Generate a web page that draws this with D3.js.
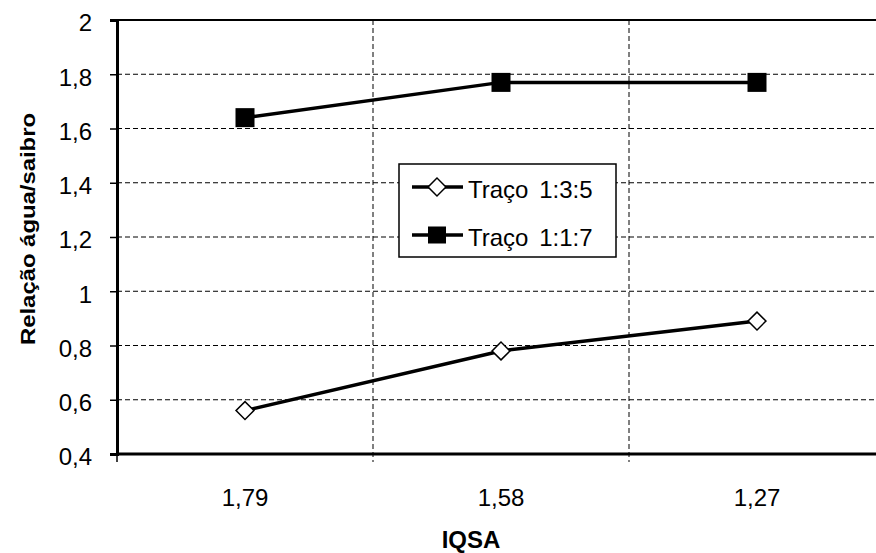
<!DOCTYPE html>
<html><head><meta charset="utf-8">
<script src="https://cdn.jsdelivr.net/npm/d3@7"></script>
<style>body{margin:0;background:#fff}svg{display:block}text{font-family:"Liberation Sans",Arial,sans-serif}</style>
</head><body>
<svg id="c" width="876" height="553"></svg>
<script>
const categories = ["1,79", "1,58", "1,27"];
const serie135 = [0.56, 0.78, 0.89];
const serie117 = [1.64, 1.77, 1.77];
const yTicks = [0.4, 0.6, 0.8, 1, 1.2, 1.4, 1.6, 1.8, 2];
const seriesNames = ["Traço 1:3:5", "Traço 1:1:7"];

const svg = d3.select("#c");
const L = 117, R = 885, T = 20, B = 454;
const x = d3.scaleBand().domain(categories).range([L, R]);
const y = d3.scaleLinear().domain([0.4, 2]).range([B, T]);
const fmt = d => String(d).replace(".", ",");

// horizontal gridlines
svg.append("g").selectAll("line").data(yTicks.filter(d => d > 0.4 && d < 2)).join("line")
  .attr("x1", L).attr("x2", 876).attr("y1", d => y(d)).attr("y2", d => y(d))
  .attr("stroke", "#000").attr("stroke-width", 1).attr("stroke-dasharray", "5,3");
// top line
svg.append("line").attr("x1", L).attr("x2", 876).attr("y1", y(2)).attr("y2", y(2))
  .attr("stroke", "#000").attr("stroke-width", 2);
// vertical gridlines at category boundaries
const bounds = categories.slice(1).map(c => x(c));
svg.append("g").selectAll("line").data(bounds).join("line")
  .attr("x1", d => d).attr("x2", d => d).attr("y1", T).attr("y2", B + 8)
  .attr("stroke", "#000").attr("stroke-width", 1).attr("stroke-dasharray", "5,3");

// y axis
const yAxis = svg.append("g").attr("transform", `translate(${L},0)`)
  .call(d3.axisLeft(y).tickValues(yTicks).tickFormat(fmt).tickSize(7).tickPadding(18));
yAxis.select(".domain").attr("stroke-width", 3);
yAxis.selectAll(".tick line").attr("stroke-width", 1.5);
yAxis.selectAll("text").attr("font-size", 24).attr("dy", "0.45em").attr("fill", "#000");

// x axis
const xAxis = svg.append("g").attr("transform", `translate(0,${B})`)
  .call(d3.axisBottom(x).tickSize(0).tickPadding(35));
xAxis.select(".domain").attr("stroke-width", 3).attr("d", `M${L},0H876`);
xAxis.selectAll("text").attr("font-size", 24).attr("fill", "#000");
svg.append("line").attr("x1", L).attr("x2", L).attr("y1", B).attr("y2", B + 8).attr("stroke", "#000").attr("stroke-width", 1.5);

// titles
svg.append("text").attr("x", x.bandwidth() * 1.5 + L - 30).attr("y", 548).attr("text-anchor", "middle")
  .attr("font-size", 24).attr("font-weight", "bold").text("IQSA");
svg.append("text").attr("transform", `translate(35,229) rotate(-90)`).attr("text-anchor", "middle")
  .attr("font-size", 21).attr("font-weight", "bold")
  .attr("textLength", 232).attr("lengthAdjust", "spacingAndGlyphs").text("Relação água/saibro");

const cx = c => x(c) + x.bandwidth() / 2;
const line = d3.line().x((d, i) => cx(categories[i])).y(d => y(d));

// series 1:3:5
svg.append("path").datum(serie135).attr("d", line).attr("fill", "none").attr("stroke", "#000").attr("stroke-width", 3.5);
const diamond = d3.symbol().type(d3.symbolSquare).size(160);
svg.append("g").selectAll("path").data(serie135).join("path")
  .attr("d", diamond)
  .attr("transform", (d, i) => `translate(${cx(categories[i])},${y(d)}) rotate(45)`)
  .attr("fill", "#fff").attr("stroke", "#000").attr("stroke-width", 1.5);

// series 1:1:7
svg.append("path").datum(serie117).attr("d", line).attr("fill", "none").attr("stroke", "#000").attr("stroke-width", 3.5);
svg.append("g").selectAll("rect").data(serie117).join("rect")
  .attr("x", (d, i) => cx(categories[i]) - 9.5).attr("y", d => y(d) - 9.5)
  .attr("width", 19).attr("height", 19).attr("fill", "#000");

// legend
const lg = svg.append("g");
lg.append("rect").attr("x", 399).attr("y", 164).attr("width", 217).attr("height", 93)
  .attr("fill", "#fff").attr("stroke", "#000").attr("stroke-width", 1.5);
const ly = [187, 235];
seriesNames.forEach((nm, i) => {
  lg.append("line").attr("x1", 412).attr("x2", 463).attr("y1", ly[i]).attr("y2", ly[i])
    .attr("stroke", "#000").attr("stroke-width", 3.5);
  if (i === 0) {
    lg.append("path").attr("d", diamond).attr("transform", `translate(437,${ly[i]}) rotate(45)`)
      .attr("fill", "#fff").attr("stroke", "#000").attr("stroke-width", 1.5);
  } else {
    lg.append("rect").attr("x", 428).attr("y", ly[i] - 8.5).attr("width", 18).attr("height", 17).attr("fill", "#000");
  }
  lg.append("text").attr("x", 468).attr("y", ly[i] + 11).attr("font-size", 24).attr("word-spacing", 4).text(nm);
});
</script>
</body></html>
